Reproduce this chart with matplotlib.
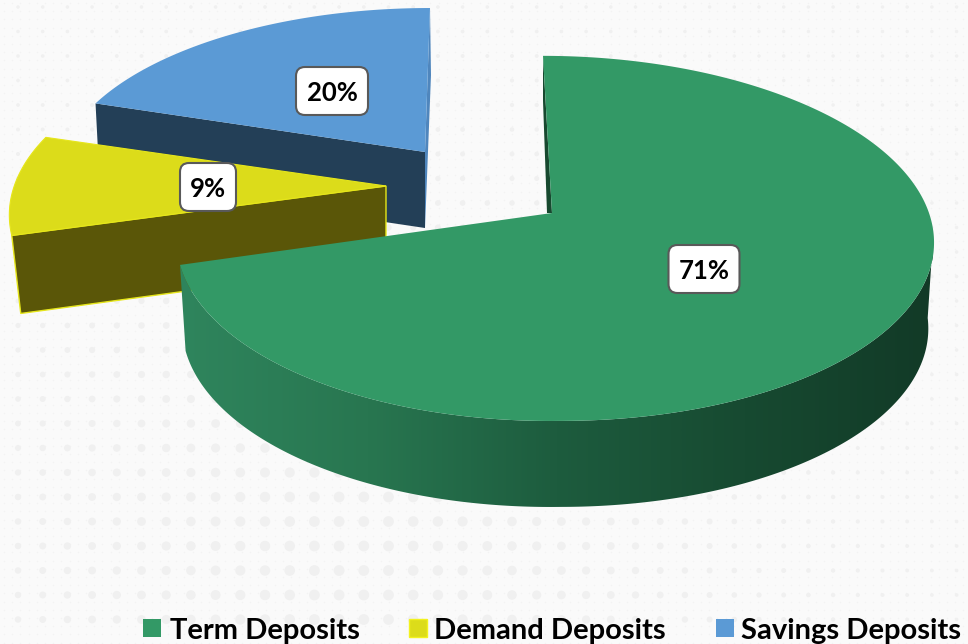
import numpy as np
import matplotlib
matplotlib.use("Agg")
import matplotlib.pyplot as plt
from matplotlib.colors import LinearSegmentedColormap
from matplotlib.patches import Polygon, FancyBboxPatch, Rectangle

plt.rcParams['font.family'] = ['Lato', 'DejaVu Sans']

categories = ["Term Deposits", "Demand Deposits", "Savings Deposits"]
shares = [71, 9, 20]

# ==========================================
# look of each slice, pie is faked 3D so every slice has its own apex + perspective
# ==========================================
TERM = dict(cx=552, cy=213, a=179, k=0.139, left=373, right=377, skew=-9, droop=6, depth=86, taper=0.985, top="#339966")
DEMAND = dict(cx=386, cy=186, a=177, k=0.139, left=373, right=373, skew=0, droop=4, depth=78, taper=0.976, top="#dcdc1a", wall="#5a5608")
SAVINGS = dict(cx=425, cy=152, a=164, k=0.139, left=363, right=363, skew=5, droop=0, depth=76, taper=0.988, top="#5b9ad5", wall="#233f57")

term_wall_colors = ["#2f855d", "#287650", "#1d5c3e", "#174a31", "#123a27"]
label_boxes = [(704, 269, 71, 48), (208, 187, 56, 48), (332, 91, 72, 48)]
legend_x = [143, 409, 716]
legend_text_x = [170, 434, 741]


def rim(g, theta, bottom=False):
    t = np.radians(np.atleast_1d(theta))
    u, v = np.cos(t), np.sin(t)
    w = 1 + g["k"] * v
    dx = np.where(u < 0, g["left"], g["right"]) * u / w + g["skew"] * v
    dy = -g["a"] * v / w + g["droop"] * np.clip(-u, 0, 1)
    if bottom:
        return np.column_stack([g["cx"] + dx * g["taper"], g["cy"] + dy + g["depth"]])
    return np.column_stack([g["cx"] + dx, g["cy"] + dy])


def top_face(g, start, end):
    pts = rim(g, np.linspace(start, end, 300))
    return np.vstack([[g["cx"], g["cy"]], pts])


# slices go clockwise from 12 o'clock
ends = 90 - np.cumsum(shares) * 3.6
term_end, demand_end = ends[0] + 360, ends[1] + 360

fig = plt.figure(figsize=(9.68, 6.44), dpi=100, facecolor="#fafafa")
ax = fig.add_axes([0, 0, 1, 1])
ax.set_axis_off()

# background dots
fx, fy = np.meshgrid(np.arange(4, 968, 8.2), np.arange(3, 644, 8.2))
ax.scatter(fx.ravel(), fy.ravel(), s=1.2, color="#f3f3f3", linewidths=0, zorder=0)
gx, gy = np.meshgrid(np.arange(18, 968, 24.7), np.arange(497 - 24.5 * 20, 644, 24.5))
fade = np.exp(-((gx - 350) / 420) ** 2) * np.clip((gy + 60) / 560, 0.1, 1)
ax.scatter(gx.ravel(), gy.ravel(), s=(6 + 55 * fade ** 2).ravel(), color="#f0f0f0", linewidths=0, zorder=0.5)

# savings slice
g = SAVINGS
apex = np.array([g["cx"], g["cy"]])
corner = rim(g, demand_end)[0]
corner_b = rim(g, demand_end, bottom=True)[0]
ax.add_patch(Polygon([corner, apex, apex + [0, g["depth"]], corner_b], fc=g["wall"], ec="none", zorder=2))
tip = rim(g, 90)[0]
ax.add_patch(Polygon([tip, tip + [1, 67], apex + [0, g["depth"]], apex], fc="#4f86bd", ec="none", zorder=2))
ax.add_patch(Polygon(top_face(g, demand_end, 90), fc=g["top"], ec="none", zorder=3))

# demand slice
g = DEMAND
apex = np.array([g["cx"], g["cy"]])
corner = rim(g, term_end)[0]
corner_b = rim(g, term_end, bottom=True)[0]
ax.add_patch(Polygon([corner, apex, apex + [0, g["depth"]], corner_b], fc=g["wall"], ec="#e6e61a", lw=1, zorder=4))
ax.add_patch(Polygon(top_face(g, term_end, demand_end), fc=g["top"], ec="#e6e61a", lw=0.8, zorder=5))

# term slice, outer wall with the dark gradient
g = TERM
th = np.linspace(term_end, 360 - 6, 300)
wall_pts = np.vstack([rim(g, th), rim(g, th[::-1], bottom=True)])
wall = Polygon(wall_pts, fc="none", ec="none", zorder=6)
ax.add_patch(wall)
cmap = LinearSegmentedColormap.from_list("term_wall", term_wall_colors)
img = ax.imshow(np.linspace(0, 1, 512)[None, :], cmap=cmap, extent=[180, 933, 644, 0], aspect="auto", zorder=6)
img.set_clip_path(wall)
apex = np.array([g["cx"], g["cy"]])
tip = rim(g, 90)[0]
ax.add_patch(Polygon([tip, tip + [0, 45], apex + [-5, 0], apex], fc="#17492f", ec="none", zorder=7))
ax.add_patch(Polygon(top_face(g, term_end - 360, 90), fc=g["top"], ec="none", zorder=8))

# percent labels
for share, (x, y, w, h) in zip(shares, label_boxes):
    ax.add_patch(FancyBboxPatch((x - w / 2 + 7, y - h / 2 + 7), w - 14, h - 14, boxstyle="round,pad=7,rounding_size=9",
                                fc="white", ec="#595959", lw=1.5, zorder=9))
    ax.text(x, y, f"{share}%", ha="center", va="center_baseline", fontsize=18.5, fontweight="bold", color="black", zorder=10)

# legend
swatch_colors = [TERM["top"], DEMAND["top"], SAVINGS["top"]]
for name, col, sx, tx in zip(categories, swatch_colors, legend_x, legend_text_x):
    ax.add_patch(Rectangle((sx, 619), 18, 18, fc=col, ec="#f2f21e" if col == DEMAND["top"] else "none", lw=1, zorder=9))
    ax.text(tx, 628, name, ha="left", va="center_baseline", fontsize=21, fontweight="bold", color="black", zorder=10)

ax.set_xlim(0, 968)
ax.set_ylim(644, 0)
fig.savefig("out.png", dpi=100, facecolor=fig.get_facecolor())
